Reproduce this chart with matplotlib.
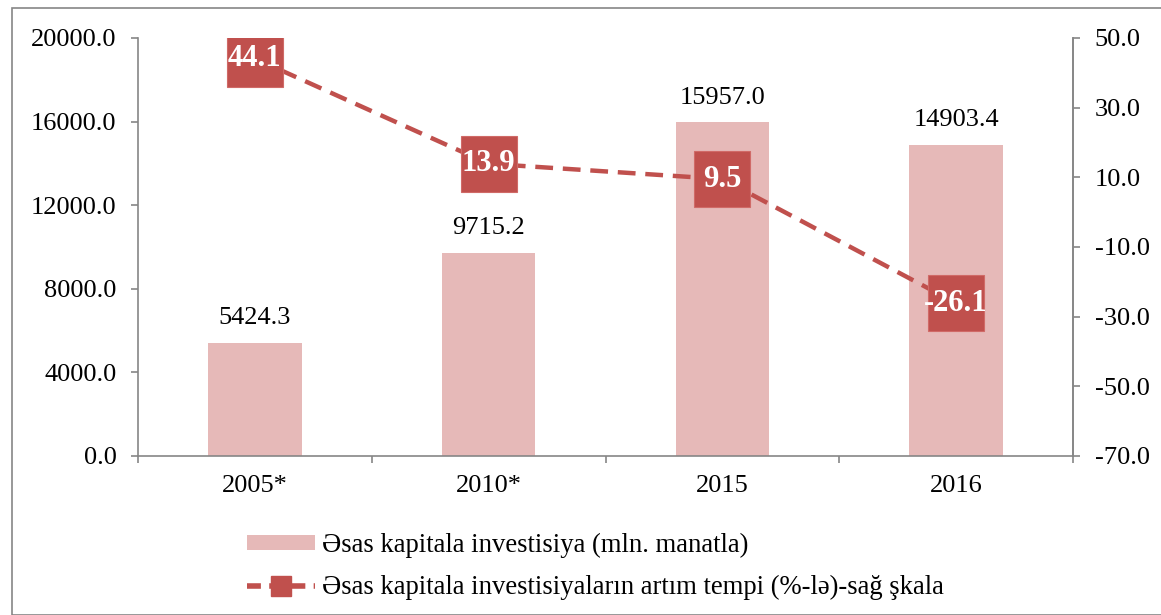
import matplotlib
matplotlib.use("Agg")
import matplotlib.pyplot as plt
from matplotlib.lines import Line2D
from matplotlib.patches import Patch, Rectangle
import numpy as np

categories = ["2005*", "2010*", "2015", "2016"]
investment = [5424.3, 9715.2, 15957.0, 14903.4]
growth = [44.1, 13.9, 9.5, -26.1]
left_ticks = [0, 4000, 8000, 12000, 16000, 20000]
right_ticks = [-70, -50, -30, -10, 10, 30, 50]
bar_label = "Əsas kapitala investisiya (mln. manatla)"
line_label = "Əsas kapitala investisiyaların artım tempi (%-lə)-sağ şkala"

plt.rcParams['font.family'] = ['Liberation Serif', 'DejaVu Serif']

BAR_C = "#E6B9B8"
LINE_C = "#C0504D"
GRAY = "#868686"

W, H = 1161, 615
fig = plt.figure(figsize=(W/100, H/100), dpi=100)
fig.patches.append(Rectangle((12/W, 0), 2, 1 - 8/H, transform=fig.transFigure,
                             fill=False, edgecolor=GRAY, linewidth=1.2, zorder=0))

ax = fig.add_axes([138/W, (H-456)/H, (1073-138)/W, (456-38)/H])
x = np.arange(len(categories))
ax.bar(x, investment, width=0.4, color=BAR_C, zorder=2)
ax.set_xlim(-0.5, len(categories) - 0.5)
ax.set_ylim(0, 20000)
ax.set_yticks(left_ticks)
ax.set_yticklabels([f"{v:.1f}" for v in left_ticks])
ax.set_xticks(x)
ax.set_xticklabels(categories)
ax.set_xticks(np.arange(-0.5, len(categories)), minor=True)
ax.tick_params(axis='x', which='major', length=0, pad=14, labelsize=19)
ax.tick_params(axis='x', which='minor', length=5, color=GRAY, width=1.2)
ax.tick_params(axis='y', length=5, color=GRAY, width=1.2, labelsize=19, pad=10.5)
ax.spines['top'].set_visible(False)
for s in ['left', 'bottom', 'right']:
    ax.spines[s].set_color(GRAY)
    ax.spines[s].set_linewidth(1.2)

for xi, v in zip(x, investment):
    ax.annotate(f"{v:.1f}", (xi, v), xytext=(0, 10), textcoords='offset points',
                ha='center', va='bottom', fontsize=19)

ax2 = ax.twinx()
ax2.set_ylim(-70, 50)
ax2.set_yticks(right_ticks)
ax2.set_yticklabels([f"{v:.1f}" for v in right_ticks])
ax2.tick_params(axis='y', length=5, color=GRAY, width=1.2, labelsize=19, pad=10.5)
for s in ['top', 'left', 'bottom']:
    ax2.spines[s].set_visible(False)
ax2.spines['right'].set_color(GRAY)
ax2.spines['right'].set_linewidth(1.2)

ax2.plot(x, growth, color=LINE_C, linewidth=3.2, dashes=(4, 2.2),
         marker='s', markersize=41, markerfacecolor=LINE_C,
         markeredgecolor="#D06A67", markeredgewidth=0.8, zorder=3)
for xi, v in zip(x, growth):
    ax2.text(xi, v, f"{v:.1f}", ha='center', va='center', color='white',
             fontsize=22, fontweight='bold', zorder=4)

handles = [Patch(facecolor=BAR_C, edgecolor='none'),
           Line2D([0], [0], color=LINE_C, linewidth=4, dashes=(2.5, 1.5),
                  marker='s', markersize=15, markerfacecolor=LINE_C, markeredgecolor=LINE_C)]
fig.legend(handles, [bar_label, line_label], loc='upper left',
           bbox_to_anchor=(247/W, 1 - 533/H), frameon=False, fontsize=19.2,
           borderpad=0, borderaxespad=0, handlelength=2.55, handleheight=0.5,
           handletextpad=0.27, labelspacing=0.64)

fig.savefig("out.png", dpi=100)
